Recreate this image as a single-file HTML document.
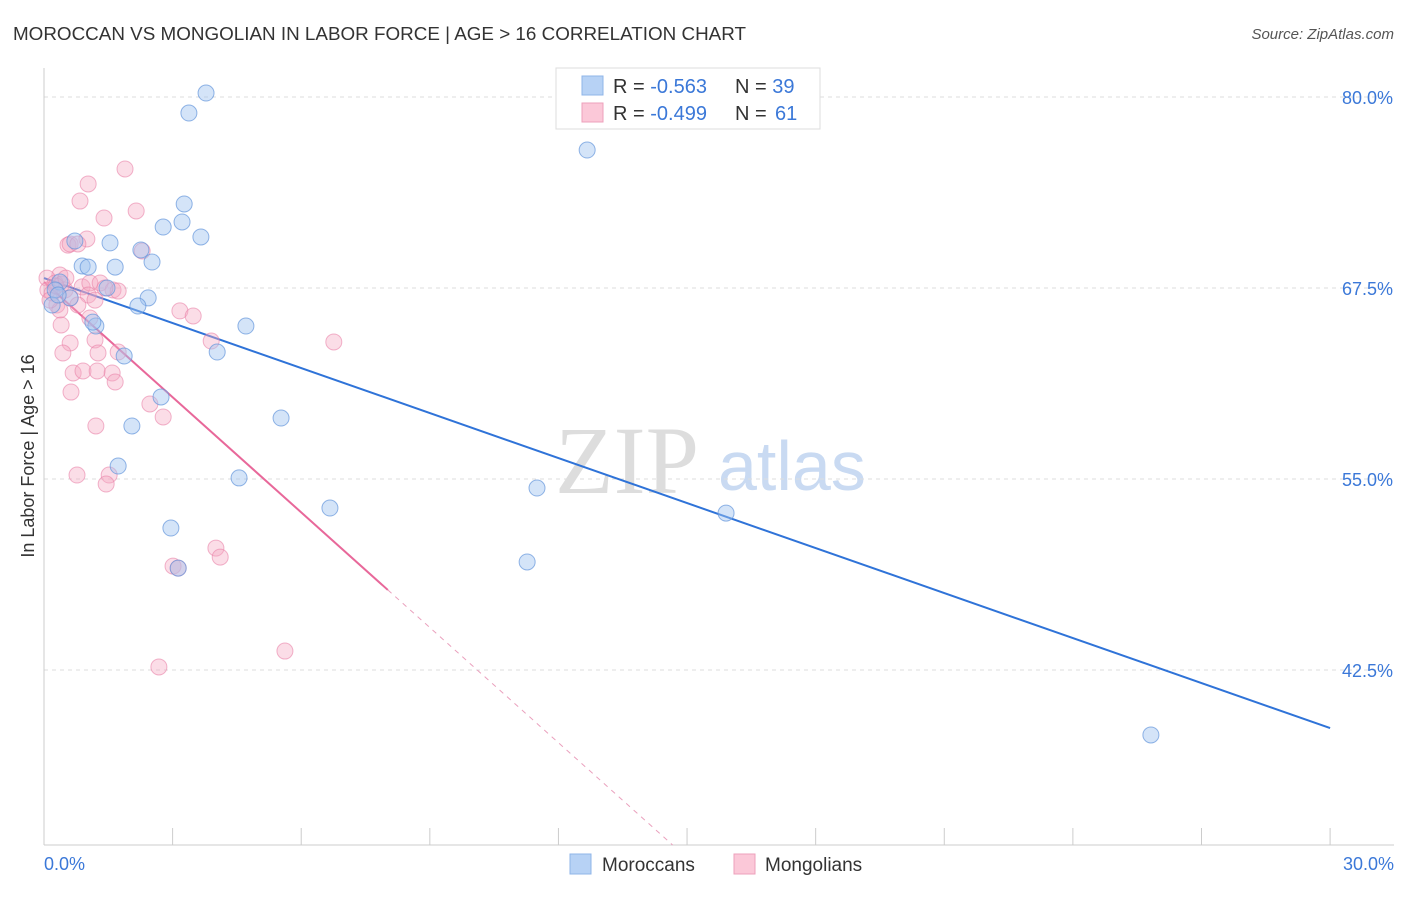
<!DOCTYPE html>
<html><head><meta charset="utf-8"><style>
body{margin:0;background:#fff;font-family:"Liberation Sans",sans-serif;}
svg text{font-family:"Liberation Sans",sans-serif;}
</style></head><body>
<svg id="chart" width="1406" height="892">
<text x="13" y="40" font-size="18.5" fill="#333" textLength="733" lengthAdjust="spacingAndGlyphs">MOROCCAN VS MONGOLIAN IN LABOR FORCE | AGE &gt; 16 CORRELATION CHART</text>
<text x="1394" y="39" font-size="15" fill="#555" font-style="italic" text-anchor="end">Source: ZipAtlas.com</text>
<text x="34" y="456" font-size="18" fill="#333" transform="rotate(-90 34 456)" text-anchor="middle">In Labor Force | Age &gt; 16</text>
<g>
<text x="555" y="493" font-size="96" fill="#ddd" font-family="Liberation Serif" style="font-family:'Liberation Serif',serif">ZIP</text>
<text x="718" y="490" font-size="70" fill="#c9daf2">atlas</text>
</g>
<g id="grid"></g><g id="axes"></g><g id="trend"></g><g id="pts"></g>
<g>
<rect x="556" y="68" width="264" height="61" fill="#fff" stroke="#ddd"/>
<rect x="582" y="76" width="21" height="19" fill="#b7d2f5" stroke="#8fb5e8"/>
<rect x="582" y="103" width="21" height="19" fill="#fbc8d8" stroke="#eea0bb"/>
<text x="613" y="93" font-size="20" fill="#333">R = <tspan fill="#3b78d8">-0.563</tspan><tspan x="735">N = </tspan><tspan fill="#3b78d8">39</tspan></text>
<text x="613" y="120" font-size="20" fill="#333">R = <tspan fill="#3b78d8">-0.499</tspan><tspan x="735">N = </tspan><tspan fill="#3b78d8" x="775">61</tspan></text>
</g>
<g>
<rect x="570" y="854" width="21" height="20" fill="#b7d2f5" stroke="#8fb5e8"/>
<text x="602" y="871" font-size="19" fill="#333">Moroccans</text>
<rect x="734" y="854" width="21" height="20" fill="#fbc8d8" stroke="#eea0bb"/>
<text x="765" y="871" font-size="19" fill="#333">Mongolians</text>
</g>
</svg>
<script>
const yTicks=[80,67.5,55,42.5];
const yTickLabels=["80.0%","67.5%","55.0%","42.5%"];
const xTickLabels=["0.0%","30.0%"];
const blueX=[3.78,3.38,12.67,3.27,3.22,2.78,3.66,1.54,0.72,2.26,2.52,0.89,1.03,1.66,0.37,0.26,1.47,2.43,0.61,2.19,0.19,1.21,4.71,4.04,1.87,2.73,5.53,2.05,1.73,4.55,11.5,6.67,15.91,2.96,3.13,11.27,25.82,1.14,0.33];
const blueY=[80.26,78.95,76.53,73.0,71.82,71.49,70.84,70.45,70.58,69.99,69.2,68.94,68.87,68.87,67.89,67.37,67.5,66.85,66.85,66.32,66.39,65.01,65.01,63.31,63.05,60.37,58.99,58.47,55.85,55.07,54.41,53.1,52.77,51.79,49.17,49.57,38.25,65.27,67.04];
const pinkX=[1.89,1.03,0.84,2.15,1.40,1.00,0.56,0.61,0.79,2.29,0.37,0.07,0.26,0.09,0.19,0.42,0.49,0.61,0.89,1.07,1.31,1.61,1.73,1.42,1.03,1.19,0.79,0.30,0.37,1.07,0.40,3.17,3.48,3.90,6.76,1.19,0.61,0.44,1.26,1.73,0.68,0.91,1.24,1.59,1.66,0.63,2.47,2.78,1.21,0.77,1.52,1.45,4.01,4.11,3.01,3.13,5.62,2.68,0.28,0.14,0.51];
const pinkY=[75.29,74.31,73.19,72.54,72.08,70.71,70.31,70.38,70.38,69.92,68.35,68.15,67.83,67.37,67.17,67.76,67.37,66.85,67.57,67.83,67.83,67.37,67.30,67.5,67.04,66.71,66.39,66.39,66.06,65.54,65.08,66.0,65.67,64.03,63.97,64.10,63.90,63.25,63.25,63.31,61.94,62.07,62.07,61.94,61.35,60.69,59.91,59.06,58.47,55.26,55.26,54.67,50.48,49.89,49.30,49.17,43.74,42.70,67.63,66.71,68.15];
const blueTrend=[68.15,38.70];
const pinkTrend=[67.89,47.74];
const pinkSolidEnd=8.02;
const NS="http://www.w3.org/2000/svg";
const X=v=>44+v*42.87, Y=v=>97+(80-v)*15.28;
function mk(tag,attrs,parent){const e=document.createElementNS(NS,tag);for(const k in attrs)e.setAttribute(k,attrs[k]);document.getElementById(parent).appendChild(e);return e;}
yTicks.forEach((t,i)=>{
 const g=mk('line',{x1:44,x2:1394,y1:Y(t),y2:Y(t),stroke:'#ddd','stroke-dasharray':'4,4'},'grid');
 
 
 const l=mk('text',{x:1393,y:Y(t)+7,'font-size':18,fill:'#3b78d8','text-anchor':'end'},'grid');l.textContent=yTickLabels[i];
 
 
});
mk('line',{x1:44,x2:44,y1:68,y2:845,stroke:'#ccc'},'axes');
mk('line',{x1:44,x2:1394,y1:845,y2:845,stroke:'#ccc'},'axes');
for(let i=0;i<=10;i++){const t=mk('line',{x1:X(i*3),x2:X(i*3),y1:828,y2:845,stroke:'#ccc'},'axes');
 
 }
[[0,'start',44],[30,'end',1394]].forEach((d,i)=>{const l=mk('text',{x:d[2],y:870,'font-size':18,fill:'#3b78d8','text-anchor':d[1]},'axes');l.textContent=xTickLabels[i];
 
 });
const bt=mk('line',{x1:X(0),y1:Y(blueTrend[0]),x2:X(30),y2:Y(blueTrend[1]),stroke:'#2f73d8','stroke-width':2},'trend');


const slope=(pinkTrend[1]-pinkTrend[0])/pinkSolidEnd;
const pt=mk('line',{x1:X(0),y1:Y(pinkTrend[0]),x2:X(pinkSolidEnd),y2:Y(pinkTrend[1]),stroke:'#e8689a','stroke-width':2},'trend');


const endX=(31.05-pinkTrend[0])/slope;
const pd=mk('line',{x1:X(pinkSolidEnd),y1:Y(pinkTrend[1]),x2:X(endX),y2:Y(31.05),stroke:'#eaa0bd','stroke-width':1,'stroke-dasharray':'5,5'},'trend');


pinkX.forEach((x,i)=>{const c=mk('circle',{cx:X(x),cy:Y(pinkY[i]),r:8,fill:'rgba(246,170,196,0.4)',stroke:'rgba(234,130,168,0.6)','stroke-width':1},'pts');
 
 });
blueX.forEach((x,i)=>{const c=mk('circle',{cx:X(x),cy:Y(blueY[i]),r:8,fill:'rgba(160,195,240,0.45)',stroke:'rgba(100,150,220,0.7)','stroke-width':1},'pts');
 
 });
</script>
</body></html>
